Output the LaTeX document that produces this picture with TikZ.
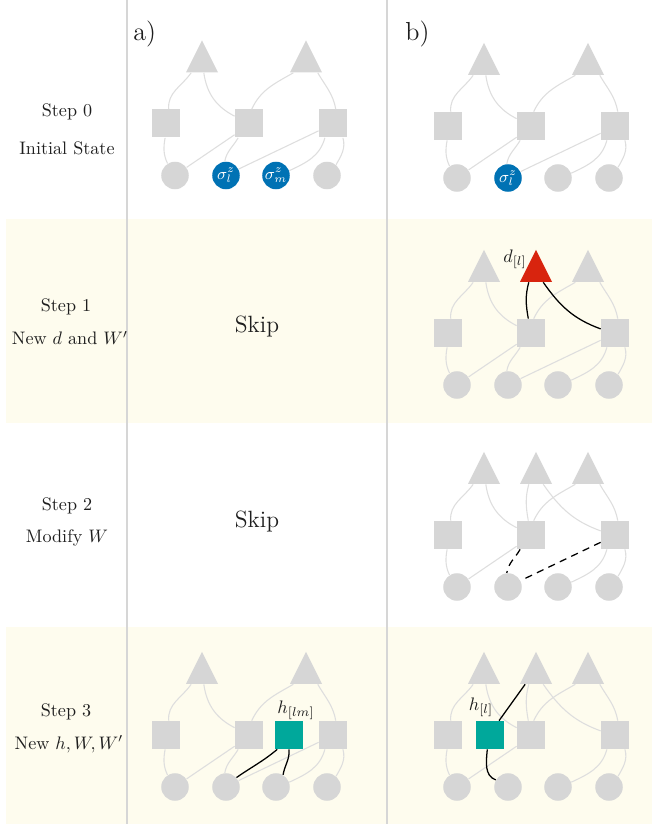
\documentclass[tikz,border=0pt]{standalone}
\usepackage{amsmath}
\usetikzlibrary{shapes.geometric,calc}
\definecolor{ngray}{RGB}{214,214,214}
\definecolor{egray}{RGB}{222,222,222}
\definecolor{vlinec}{RGB}{214,214,214}
\definecolor{bandc}{RGB}{254,252,238}
\definecolor{sblue}{RGB}{0,114,180}
\definecolor{dred}{RGB}{216,36,14}
\definecolor{hteal}{RGB}{0,168,155}
\definecolor{txt}{RGB}{30,30,30}

\newcommand\gnodes[5]{%
  \node[tri] (#1T1) at (484+#2,#3+84) {};
  \node[tri] (#1T3) at (588+#2,#3+84) {};
  \node[sq] (#1S1) at (448+#2,#3) {};
  \node[sq] (#1S2) at (531+#2,#3) {};
  \node[sq] (#1S3) at (615+#2,#3) {};
  \node[circ] (#1C1) at (457+#2,#3-52) {};
  \node[circ,#4] (#1C2) at (508+#2,#3-52) {};
  \node[circ,#5] (#1C3) at (558+#2,#3-52) {};
  \node[circ] (#1C4) at (609+#2,#3-52) {};
}
\newcommand\commonedges[1]{%
  \draw[ge] ([xshift=-6pt]#1T1.south) to[out=-125,in=95] ([xshift=1.5pt]#1S1.north);
  \draw[ge] ([xshift=1pt]#1T1.south) to[out=-82,in=153] (#1S2.153);
  \draw[ge] ([xshift=-7pt]#1T3.south) to[out=-150,in=65] ([xshift=1.5pt]#1S2.north);
  \draw[ge] ([xshift=6.5pt]#1T3.south) to[out=-60,in=100] ([xshift=1.5pt]#1S3.north);
  \draw[ge] ([xshift=-0.5pt]#1S1.south) to[out=-100,in=115] (#1C1.122);
  \draw[ge] (#1S2.218) -- (#1C1.35);
  \draw[ge] ([xshift=-4.5pt]#1S3.south) to[out=-105,in=25] (#1C3.20);
  \draw[ge] ([xshift=5.5pt]#1S3.south) to[out=-75,in=60] (#1C4.50);
}
\newcommand\wedges[2]{%
  \draw[#2] ([xshift=-6pt]#1S2.south) to[out=-120,in=80] (#1C2.95);
  \draw[#2] (#1S3.207) -- (#1C2.27);
}
\newcommand\dedges[2]{%
  \draw[#2] ([xshift=-4pt]#1T2.south) to[out=-105,in=100] ([xshift=-1.5pt]#1S2.north);
  \draw[#2] ([xshift=4pt]#1T2.south) to[out=-55,in=160] (#1S3.164);
}

\begin{document}
\begin{tikzpicture}[x=0.5522pt,y=0.5522pt,
  tri/.style={isosceles triangle, isosceles triangle stretches=true, shape border rotate=90,
    minimum width=17.67pt, minimum height=17.67pt, inner sep=0pt, fill=ngray, anchor=north},
  sq/.style={rectangle, minimum size=15.46pt, inner sep=0pt, fill=ngray},
  circ/.style={circle, minimum size=15.2pt, inner sep=0pt, fill=ngray},
  ge/.style={draw=egray, line width=0.6pt},
  be/.style={draw=black, line width=0.7pt},
  de/.style={draw=black, line width=0.7pt, dash pattern=on 4pt off 3pt},
  lab/.style={text=txt, font=\fontsize{10}{12}\selectfont, inner sep=0pt},
  skiplab/.style={text=txt, font=\fontsize{13}{16}\selectfont, inner sep=0pt},
  panel/.style={text=txt, font=\Large, inner sep=0pt, anchor=base west},
  mlab/.style={text=txt, font=\fontsize{10}{12}\selectfont, inner sep=0pt},
  sig/.style={fill=sblue, label={[text=white, font=\small, inner sep=0pt]center:#1}}
]
\useasboundingbox (0,0) rectangle (652,-827);
% bands
\fill[bandc] (6,-219) rectangle (652,-423);
\fill[bandc] (6,-627) rectangle (652,-824);
% separators
\draw[vlinec, line width=0.8pt] (127,0) -- (127,-824);
\draw[vlinec, line width=0.8pt] (387,0) -- (387,-824);

% left labels
\node[lab] (s0a) at (67,-112) {Step 0};
\node[lab] (s0b) at (67,-148) {Initial State};
\node[lab] (s1a) at (66,-307) {Step 1};
\node[lab] (s1b) at (70,-338) {New $d$ and $W'$};
\node[lab] (s2a) at (67,-506) {Step 2};
\node[lab] (s2b) at (67,-538) {Modify $W$};
\node[lab] (s3a) at (66,-712) {Step 3};
\node[lab] (s3b) at (69,-744) {New $h,W,W'$};

\node[panel] (pa) at (133,-41) {a)};
\node[panel] (pb) at (405,-41) {b)};

\node[skiplab] (skip1) at (257,-326) {Skip};
\node[skiplab] (skip2) at (257,-521) {Skip};

% ---- Step 0 a
\gnodes{A0}{-282}{-123.5}{sig={$\sigma^z_l$}}{sig={$\sigma^z_m$}}
\commonedges{A0}
\wedges{A0}{ge}

% ---- Step 0 b
\gnodes{B0}{0}{-126}{sig={$\sigma^z_l$}}{}
\commonedges{B0}
\wedges{B0}{ge}

% ---- Step 1 b
\gnodes{B1}{0}{-333}{}{}
\node[tri, fill=dred] (B1T2) at (536,-249) {};
\commonedges{B1}
\wedges{B1}{ge}
\dedges{B1}{be}
\node[mlab] (dl) at (515,-259) {$d_{[l]}$};

% ---- Step 2 b
\gnodes{B2}{0}{-535}{}{}
\node[tri] (B2T2) at (536,-451) {};
\commonedges{B2}
\dedges{B2}{ge}
\wedges{B2}{de}

% ---- Step 3 a
\gnodes{A3}{-282}{-735}{}{}
\node[sq, fill=hteal] (A3H) at (289,-735) {};
\commonedges{A3}
\wedges{A3}{ge}
\draw[be] ([xshift=-6.5pt]A3H.south) to[out=-140,in=35] (A3C2.42);
\draw[be] (A3H.south) to[out=-85,in=80] (A3C3.60);
\node[mlab] (hlm) at (296,-710) {$h_{[lm]}$};

% ---- Step 3 b
\gnodes{B3}{0}{-735}{}{}
\node[tri] (B3T2) at (536,-651) {};
\node[sq, fill=hteal] (B3H) at (490,-735) {};
\commonedges{B3}
\dedges{B3}{ge}
\draw[be] ([xshift=5pt]B3H.north) -- ([xshift=-6pt]B3T2.south);
\draw[be] ([xshift=-1.5pt]B3H.south) to[out=-95,in=160] (B3C2.150);
\node[mlab] (hl) at (481,-707) {$h_{[l]}$};
\end{tikzpicture}
\end{document}
